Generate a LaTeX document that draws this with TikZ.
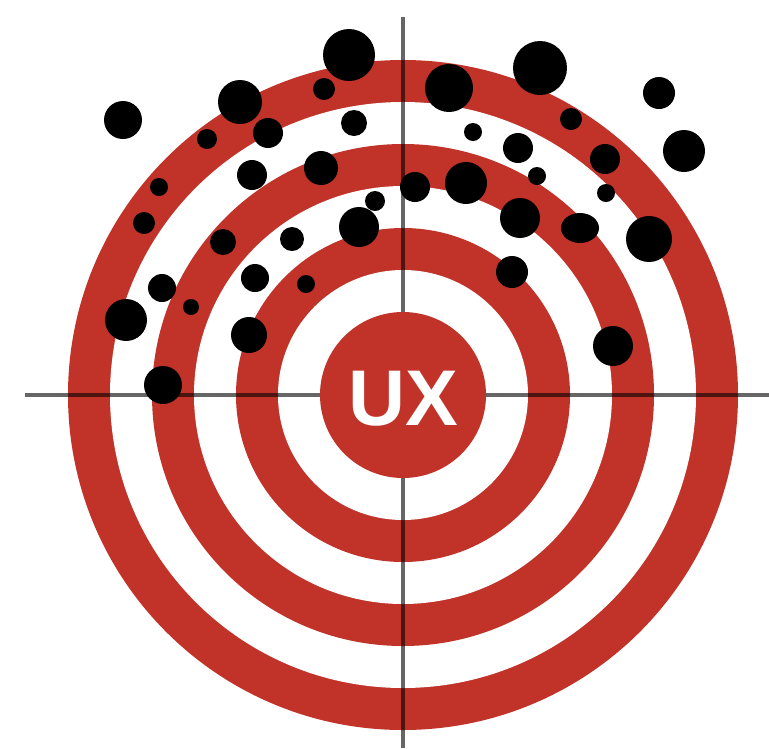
\documentclass[tikz,border=0pt]{standalone}
\usepackage{fontspec}
\setmainfont{Liberation Sans}
\definecolor{targetred}{RGB}{193,50,41}
\begin{document}
\begin{tikzpicture}[x=1pt,y=-1pt,
  crossline/.style={line width=3.5pt,black,opacity=0.6},
  dot/.style={fill=black},
  redfill/.style={fill=targetred},
  whitefill/.style={fill=white}]
\useasboundingbox (0,0) rectangle (769,748);
\coordinate (c) at (403,395);
% rings
\fill[redfill] (c) circle[radius=335pt];
\fill[whitefill] (c) circle[radius=293pt];
\fill[redfill] (c) circle[radius=251pt];
\fill[whitefill] (c) circle[radius=209pt];
\fill[redfill] (c) circle[radius=167pt];
\fill[whitefill] (c) circle[radius=125pt];
% cross lines
\coordinate (hl) at (25,395);
\coordinate (hr) at (769,395);
\coordinate (vt) at (403,17);
\coordinate (vb) at (403,748);
\draw[crossline] (hl) -- (hr);
\draw[crossline] (vt) -- (vb);
% bullseye
\fill[redfill] (c) circle[radius=83pt];
\node[text=white,font=\bfseries\fontsize{79}{79}\selectfont,inner sep=0pt] (ux) at (403.5,399) {UX};
% dots
\foreach \px/\py/\r in {
349/55/26, 240/102/22, 123/120/19, 324/89/11, 207/139/10, 268/133/15,
354/123/13, 252/175/15, 321/168/17, 159/187/9, 144/223/11, 375/201/10,
359/227/20, 223/242/13, 292/239/12, 162/288/14, 255/278/14, 306/284/9,
191/307/8, 126/320/21, 249/335/18, 163/385/19,
540/68/27, 449/88/24, 659/93/16, 571/119/11, 473/132/9, 518/148/15,
684/151/21, 605/159/15, 537/176/9, 466/183/21, 415/187/15, 606/193/9,
520/218/20, 649/239/23, 512/272/16, 613/346/20}
  \fill[dot] (\px,\py) circle[radius=\r pt];
\fill[dot] (580,228) ellipse[x radius=19pt,y radius=15pt];
\end{tikzpicture}
\end{document}
